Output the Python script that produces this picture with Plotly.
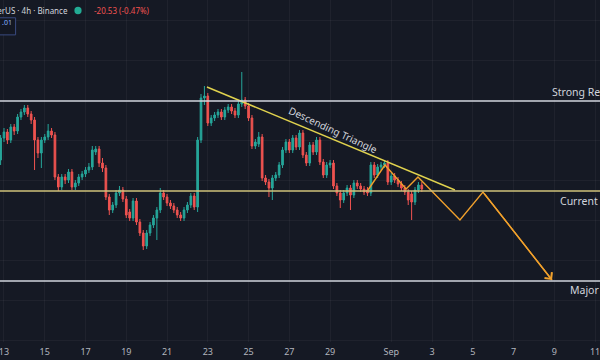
import pandas as pd
import plotly.graph_objects as go

# ---- data (ETH / TetherUS, 4h candles) ----
start_time = "2025-08-12 20:00"
opens = [4500, 4610, 4640, 4600, 4665, 4645, 4715, 4740, 4760, 4730,
         4700, 4600, 4535, 4600, 4615, 4645, 4625, 4415, 4365, 4415,
         4400, 4440, 4365, 4385, 4415, 4430, 4450, 4465, 4540, 4555,
         4485, 4460, 4315, 4250, 4275, 4335, 4350, 4305, 4240, 4210,
         4295, 4190, 4135, 4070, 4135, 4175, 4210, 4250, 4335, 4315,
         4285, 4270, 4250, 4225, 4210, 4250, 4275, 4320, 4265, 4600,
         4810, 4820, 4685, 4710, 4725, 4740, 4715, 4750, 4765, 4745,
         4725, 4780, 4800, 4770, 4710, 4570, 4580, 4615, 4410, 4390,
         4360, 4410, 4425, 4475, 4550, 4590, 4550, 4610, 4565, 4635,
         4525, 4485, 4575, 4540, 4600, 4490, 4425, 4475, 4485, 4370,
         4335, 4300, 4335, 4360, 4325, 4385, 4370, 4355, 4350, 4335,
         4475, 4425, 4465, 4475, 4485, 4390, 4420, 4400, 4380, 4360,
         4340, 4330, 4290, 4350, 4375]
closes = [4610, 4640, 4600, 4665, 4645, 4715, 4740, 4760, 4730, 4700,
          4600, 4535, 4600, 4615, 4645, 4625, 4415, 4365, 4415, 4400,
          4440, 4365, 4385, 4415, 4430, 4450, 4465, 4550, 4555, 4485,
          4460, 4315, 4250, 4275, 4335, 4350, 4305, 4225, 4210, 4295,
          4190, 4135, 4070, 4135, 4175, 4210, 4250, 4335, 4315, 4285,
          4270, 4250, 4225, 4210, 4250, 4275, 4320, 4265, 4600, 4810,
          4820, 4685, 4710, 4725, 4740, 4715, 4750, 4765, 4745, 4725,
          4780, 4800, 4770, 4710, 4570, 4590, 4615, 4410, 4390, 4360,
          4410, 4425, 4475, 4550, 4590, 4550, 4610, 4565, 4635, 4525,
          4485, 4575, 4540, 4600, 4490, 4425, 4475, 4485, 4370, 4335,
          4300, 4335, 4360, 4325, 4385, 4370, 4355, 4340, 4335, 4475,
          4425, 4465, 4475, 4485, 4390, 4420, 4400, 4380, 4360, 4340,
          4300, 4290, 4350, 4375, 4355]
highs = [4625, 4660, 4655, 4680, 4680, 4730, 4755, 4775, 4775, 4745,
         4715, 4615, 4615, 4630, 4680, 4660, 4640, 4430, 4430, 4430,
         4455, 4455, 4400, 4430, 4445, 4465, 4485, 4570, 4570, 4570,
         4510, 4475, 4330, 4290, 4350, 4370, 4365, 4320, 4255, 4310,
         4310, 4205, 4150, 4150, 4190, 4225, 4265, 4360, 4350, 4330,
         4300, 4285, 4265, 4240, 4265, 4290, 4335, 4335, 4615, 4830,
         4870, 4835, 4725, 4740, 4755, 4755, 4765, 4780, 4780, 4760,
         4795, 4940, 4815, 4785, 4725, 4605, 4640, 4630, 4425, 4405,
         4425, 4440, 4490, 4565, 4605, 4605, 4625, 4625, 4650, 4650,
         4540, 4590, 4590, 4615, 4615, 4505, 4490, 4500, 4500, 4385,
         4350, 4350, 4375, 4375, 4400, 4400, 4385, 4370, 4365, 4490,
         4490, 4480, 4490, 4500, 4500, 4435, 4435, 4415, 4395, 4375,
         4355, 4345, 4365, 4390, 4390]
lows = [4475, 4590, 4580, 4585, 4625, 4630, 4700, 4725, 4715, 4680,
        4450, 4510, 4460, 4585, 4600, 4610, 4400, 4345, 4350, 4380,
        4385, 4350, 4350, 4370, 4400, 4415, 4435, 4450, 4525, 4465,
        4440, 4300, 4225, 4235, 4260, 4320, 4290, 4210, 4195, 4195,
        4175, 4120, 4050, 4055, 4120, 4160, 4100, 4235, 4300, 4270,
        4255, 4235, 4210, 4195, 4195, 4235, 4260, 4250, 4240, 4585,
        4775, 4670, 4670, 4695, 4710, 4700, 4700, 4735, 4730, 4710,
        4710, 4765, 4755, 4695, 4555, 4555, 4565, 4395, 4375, 4315,
        4300, 4395, 4410, 4460, 4535, 4535, 4535, 4550, 4550, 4510,
        4470, 4470, 4525, 4525, 4475, 4410, 4410, 4460, 4355, 4320,
        4260, 4285, 4320, 4250, 4310, 4355, 4340, 4325, 4320, 4320,
        4410, 4410, 4450, 4460, 4375, 4375, 4385, 4365, 4345, 4325,
        4275, 4200, 4275, 4335, 4340]

# horizontal levels
level_names = ["Strong Resistance", "Current Support", "Major Support"]
level_prices = [4795, 4345, 3895]
level_colors = ["#d1d4dc", "#cfc27a", "#d1d4dc"]
level_label_prices = [4840, 4295, 3850]
level_label_x = [0.9167, 0.930, 0.947]

# descending triangle trendline
tri_times = ["2025-08-22 23:00", "2025-09-04 03:00"]
tri_prices = [4865, 4350]

# projected zigzag path
zig_times = ["2025-08-30 20:40", "2025-08-31 16:35", "2025-09-01 17:30",
             "2025-09-02 07:30", "2025-09-04 08:55", "2025-09-05 12:00",
             "2025-09-08 21:20"]
zig_prices = [4350, 4475, 4355, 4415, 4200, 4340, 3900]

# time axis ticks
tick_dates = ["2025-08-13", "2025-08-15", "2025-08-17", "2025-08-19", "2025-08-21",
              "2025-08-23", "2025-08-25", "2025-08-27", "2025-08-29", "2025-09-01",
              "2025-09-03", "2025-09-05", "2025-09-07", "2025-09-09", "2025-09-11"]
tick_labels = ["13", "15", "17", "19", "21", "23", "25", "27", "29", "Sep",
               "3", "5", "7", "9", "11"]

times = pd.date_range(start_time, periods=len(opens), freq="4h")

BG = "#151924"
UP = "#26a69a"
DOWN = "#ef5350"
TXT = "#d1d4dc"

fig = go.Figure()
fig.add_trace(go.Candlestick(
    x=times, open=opens, high=highs, low=lows, close=closes,
    increasing=dict(line=dict(color=UP, width=1), fillcolor=UP),
    decreasing=dict(line=dict(color=DOWN, width=1), fillcolor=DOWN),
    whiskerwidth=0, showlegend=False, hoverinfo="skip",
))

for p, c in zip(level_prices, level_colors):
    fig.add_hline(y=p, line=dict(color=c, width=1.6), layer="above")

fig.add_trace(go.Scatter(x=tri_times, y=tri_prices, mode="lines",
                         line=dict(color="#e0d24e", width=1.4),
                         showlegend=False, hoverinfo="skip"))
fig.add_trace(go.Scatter(x=zig_times, y=zig_prices, mode="lines",
                         line=dict(color="#f0a02c", width=1.4),
                         showlegend=False, hoverinfo="skip"))
# arrow head at end of zigzag
fig.add_annotation(x=zig_times[-1], y=zig_prices[-1], ax=zig_times[-2], ay=zig_prices[-2],
                   xref="x", yref="y", axref="x", ayref="y", text="",
                   showarrow=True, arrowhead=4, arrowsize=1.3, arrowwidth=1.4,
                   arrowcolor="#f0a02c", standoff=0)

for name, lp, lx in zip(level_names, level_label_prices, level_label_x):
    fig.add_annotation(x=lx, y=lp, xref="paper", yref="y", text=name,
                       showarrow=False, xanchor="left", yanchor="middle",
                       font=dict(family="Noto Sans", size=10.5, color=TXT))

fig.add_annotation(x="2025-08-29 04:00", y=4650, xref="x", yref="y",
                   text="Descending Triangle", showarrow=False, textangle=25,
                   font=dict(family="Noto Sans", size=10, color=TXT))

# header
fig.add_annotation(x=0.116, y=0.969, xref="paper", yref="paper",
                   text="Ethereum / TetherUS · 4h · Binance", showarrow=False,
                   xanchor="right", yanchor="middle",
                   font=dict(family="Noto Sans", size=8, color=TXT))
fig.add_annotation(x=0.153, y=0.969, xref="paper", yref="paper",
                   text="-20.53 (-0.47%)", showarrow=False,
                   xanchor="left", yanchor="middle",
                   font=dict(family="Noto Sans", size=8, color=DOWN))
fig.add_shape(type="circle", xref="paper", yref="paper",
              x0=0.124, x1=0.136, y0=0.958, y1=0.980,
              fillcolor="#22ab94", line=dict(color="#22ab94", width=0))
fig.add_shape(type="rect", xref="paper", yref="paper",
              x0=-0.02, x1=0.026, y0=0.898, y1=0.948,
              fillcolor="#131722", line=dict(color="#3a4a80", width=1))
fig.add_annotation(x=0.012, y=0.935, xref="paper", yref="paper",
                   text=".01", showarrow=False, xanchor="center", yanchor="middle",
                   font=dict(family="Noto Sans", size=7, color="#8ab4ff"))

fig.update_layout(
    width=600, height=360,
    margin=dict(l=0, r=0, t=0, b=18),
    paper_bgcolor=BG, plot_bgcolor=BG,
    showlegend=False,
    xaxis=dict(
        type="date",
        range=["2025-08-12 19:18", "2025-09-11 05:50"],
        rangeslider=dict(visible=False),
        tickvals=tick_dates, ticktext=tick_labels,
        tickfont=dict(family="Noto Sans", size=9, color="#b2b5be"),
        ticklabelstandoff=3, ticklabeloverflow="allow",
        showgrid=True, gridcolor="rgba(255,255,255,0.045)", gridwidth=1,
        zeroline=False, showline=False, ticks="",
    ),
    yaxis=dict(
        range=[3590, 5300], showticklabels=False,
        showgrid=True, gridcolor="rgba(255,255,255,0.045)", dtick=200,
        zeroline=False, showline=False,
    ),
)

fig.write_html("out.html", config={"displayModeBar": False},
               post_script="document.body.style.margin='0';document.body.style.padding='0';")
